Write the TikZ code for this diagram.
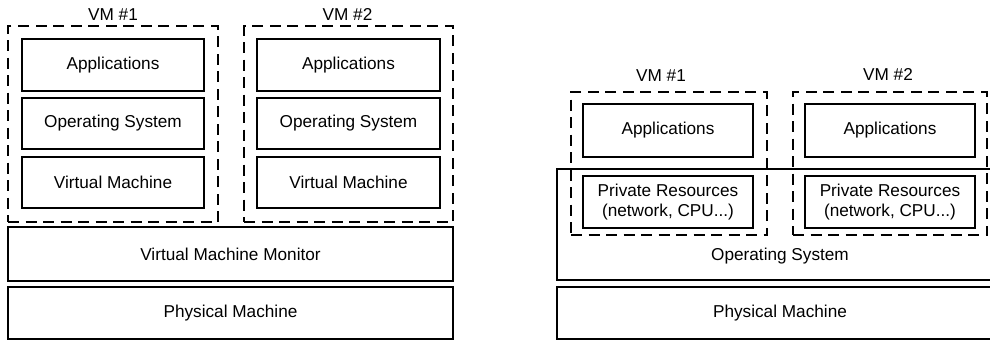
\documentclass[tikz,border=0pt]{standalone}
\usepackage{fontspec}
\setmainfont{Liberation Sans}
\begin{document}
\begin{tikzpicture}[x=1pt,y=-1pt,
  box/.style={draw=black, line width=1.1pt, inner sep=0pt, align=center},
  vmbox/.style={draw=black, line width=1.9pt, dash pattern=on 11pt off 6.5pt, inner sep=0pt},
  txt/.style={inner sep=0pt, align=center},
  every node/.style={font=\fontsize{17.2}{20.5}\selectfont}]
\clip (0,0) rectangle (990,341);
\useasboundingbox (0,0) rectangle (990,341);
% ---------- Left: hypervisor ----------
\node[vmbox, minimum width=210pt, minimum height=196pt] (lvm1) at (113,124) {};
\node[vmbox, minimum width=209pt, minimum height=196pt] (lvm2) at (348.5,124) {};
\node[txt] (lvm1t) at (113,14.5) {VM \#1};
\node[txt] (lvm2t) at (347.5,14.5) {VM \#2};
\node[box, minimum width=182pt, minimum height=52pt] (la1) at (113,65) {Applications};
\node[box, minimum width=182pt, minimum height=51pt] (lo1) at (113,123.5) {Operating System};
\node[box, minimum width=182pt, minimum height=51pt] (lv1) at (113,182.5) {Virtual Machine};
\node[box, minimum width=183pt, minimum height=52pt] (la2) at (348.5,65) {Applications};
\node[box, minimum width=183pt, minimum height=51pt] (lo2) at (348.5,123.5) {Operating System};
\node[box, minimum width=183pt, minimum height=51pt] (lv2) at (348.5,182.5) {Virtual Machine};
\node[box, minimum width=445pt, minimum height=54pt] (vmm) at (230.5,254) {Virtual Machine Monitor};
\node[box, minimum width=445pt, minimum height=52pt] (lpm) at (230.5,313) {Physical Machine};
% ---------- Right: OS-level ----------
\node[box, minimum width=446pt, minimum height=111pt] (ros) at (780,224.5) {};
\node[txt] (rostext) at ([yshift=25pt]ros.south) {Operating System};
\node[box, minimum width=446pt, minimum height=52pt] (rpm) at (780,313) {Physical Machine};
\node[vmbox, minimum width=196pt, minimum height=143pt] (rvm1) at (669,163.5) {};
\node[vmbox, minimum width=194pt, minimum height=143pt] (rvm2) at (890,163.5) {};
\node[txt] (rvm1t) at (661,76) {VM \#1};
\node[txt] (rvm2t) at (888,74) {VM \#2};
\node[box, minimum width=170pt, minimum height=53pt] (ra1) at (668,130.5) {Applications};
\node[box, minimum width=170pt, minimum height=52pt] (rp1) at (668,202) {Private Resources\\(network, CPU...)};
\node[box, minimum width=170pt, minimum height=53pt] (ra2) at (890,130.5) {Applications};
\node[box, minimum width=170pt, minimum height=52pt] (rp2) at (890,202) {Private Resources\\(network, CPU...)};
\end{tikzpicture}
\end{document}
